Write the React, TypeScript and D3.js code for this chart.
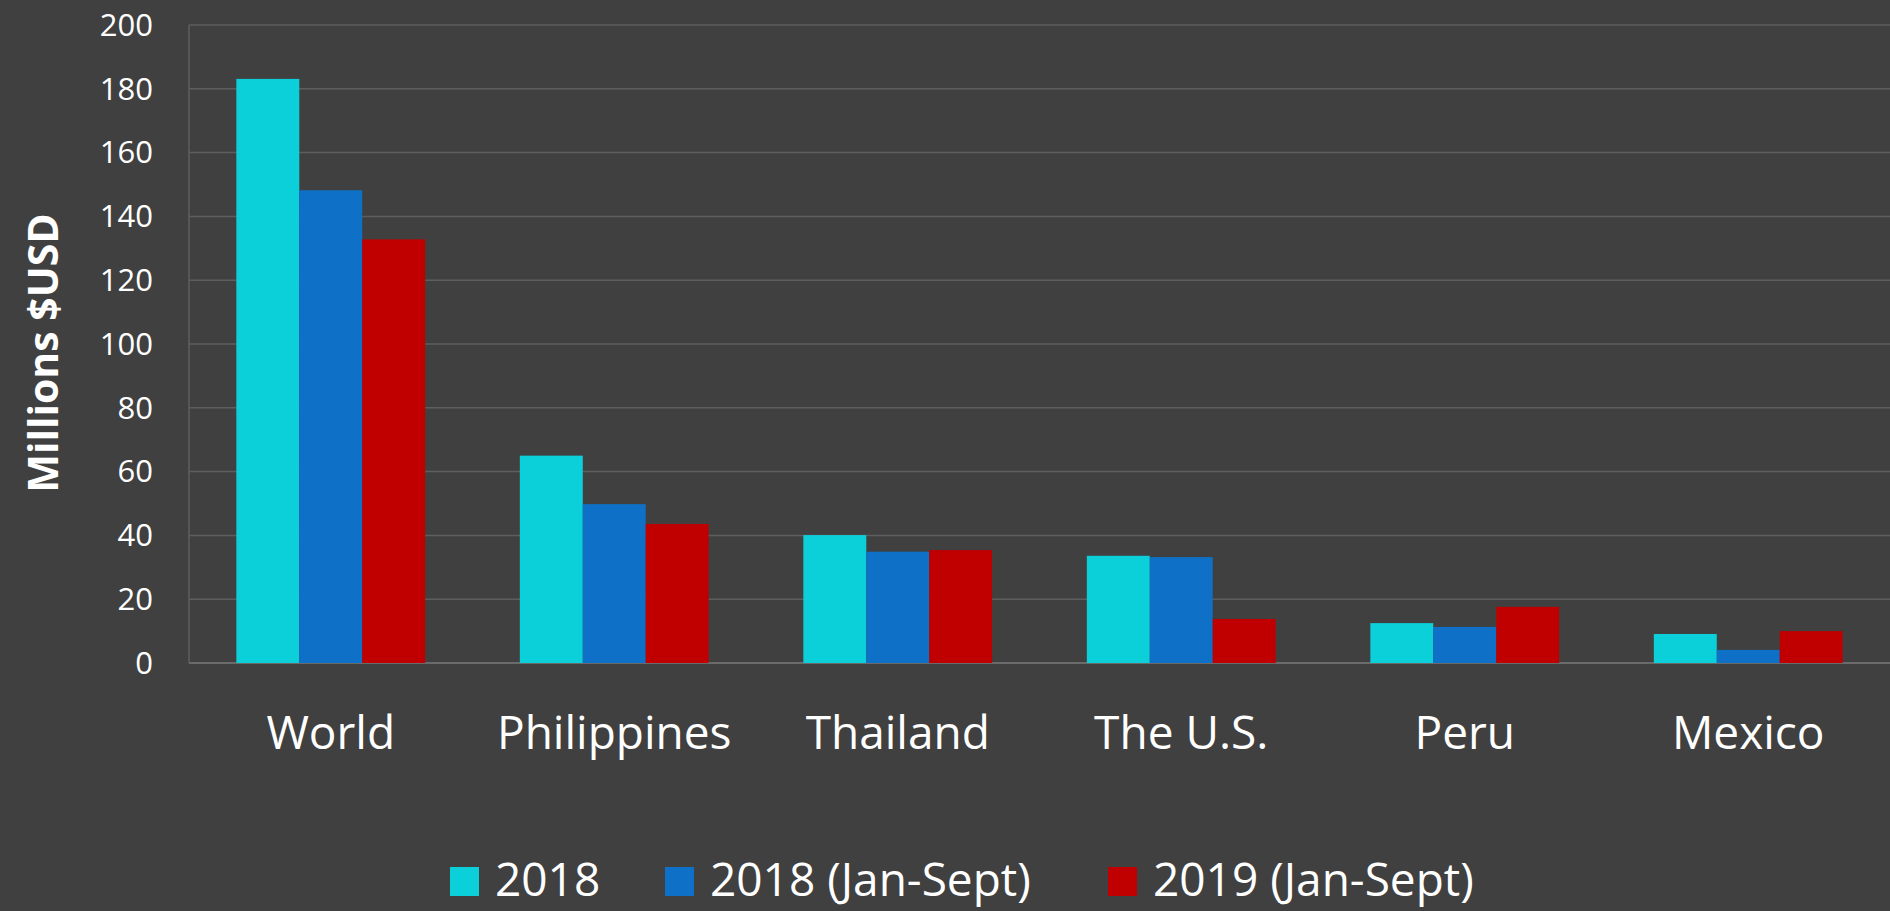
import React from "react";
import * as d3 from "d3";

const categories = ["World", "Philippines", "Thailand", "The U.S.", "Peru", "Mexico"];
const seriesNames = ["2018", "2018 (Jan-Sept)", "2019 (Jan-Sept)"];
const values2018 = [183.1, 65.0, 40.1, 33.6, 12.5, 9.1];
const values2018JanSept = [148.2, 49.8, 34.9, 33.2, 11.3, 4.1];
const values2019JanSept = [132.8, 43.6, 35.4, 13.8, 17.6, 10.0];
const yTicks = [0, 20, 40, 60, 80, 100, 120, 140, 160, 180, 200];
const colors = ["#0BD0D9", "#0E70C6", "#C00000"];

const W = 1890;
const H = 911;
const FONT = "'Open Sans', 'DejaVu Sans', sans-serif";

export default function App() {
  const seriesValues = [values2018, values2018JanSept, values2019JanSept];
  const plotLeft = 189;
  const plotRight = 1890;
  const y = d3.scaleLinear().domain([0, 200]).range([663, 25]);
  const x0 = d3
    .scaleBand<string>()
    .domain(categories)
    .range([plotLeft, plotRight])
    .paddingInner(0.334)
    .paddingOuter(0.167);
  const x1 = d3
    .scaleBand<string>()
    .domain(seriesNames)
    .range([0, x0.bandwidth()])
    .padding(0);

  // legend layout
  const legendX = [450, 665, 1108];
  const legendSq = 29;
  const legendBaseline = 896;
  const legendTop = legendBaseline - legendSq;

  return (
    <svg
      width={W}
      height={H}
      style={{ position: "absolute", left: 0, top: 0, display: "block" }}
      fontFamily={FONT}
    >
      <rect x={0} y={0} width={W} height={H} fill="#404040" />
      {/* gridlines */}
      {yTicks.map((t) => (
        <line
          key={"g" + t}
          x1={plotLeft}
          x2={plotRight}
          y1={y(t)}
          y2={y(t)}
          stroke={t === 0 ? "#6a6a6a" : "#5e5e5e"}
          strokeWidth={t === 0 ? 2 : 1.5}
        />
      ))}
      <line x1={plotLeft} x2={plotLeft} y1={y(200)} y2={y(0)} stroke="#5e5e5e" strokeWidth={1.5} />
      {/* tick labels */}
      {yTicks.map((t) => (
        <text
          key={"t" + t}
          x={153}
          y={y(t)}
          dy="0.35em"
          textAnchor="end"
          fill="#ffffff"
          fontSize={31}
        >
          {t}
        </text>
      ))}
      {/* bars */}
      {categories.map((c, ci) => (
        <g key={c} transform={`translate(${x0(c)},0)`}>
          {seriesNames.map((s, si) => {
            const v = seriesValues[si][ci];
            return (
              <rect
                key={s}
                x={x1(s)}
                y={y(v)}
                width={x1.bandwidth()}
                height={y(0) - y(v)}
                fill={colors[si]}
              />
            );
          })}
        </g>
      ))}
      {/* category labels */}
      {categories.map((c) => (
        <text
          key={"c" + c}
          x={(x0(c) as number) + x0.bandwidth() / 2}
          y={749}
          textAnchor="middle"
          fill="#ffffff"
          fontSize={46}
        >
          {c}
        </text>
      ))}
      {/* y axis title */}
      <text
        transform={`translate(58,353) rotate(-90)`}
        textAnchor="middle"
        fill="#ffffff"
        fontSize={41}
        fontWeight="bold"
      >
        Millions $USD
      </text>
      {/* legend */}
      {seriesNames.map((s, i) => (
        <g key={"l" + s}>
          <rect x={legendX[i]} y={legendTop} width={legendSq} height={legendSq} fill={colors[i]} />
          <text x={legendX[i] + legendSq + 16} y={legendBaseline} fill="#ffffff" fontSize={46}>
            {s}
          </text>
        </g>
      ))}
    </svg>
  );
}
